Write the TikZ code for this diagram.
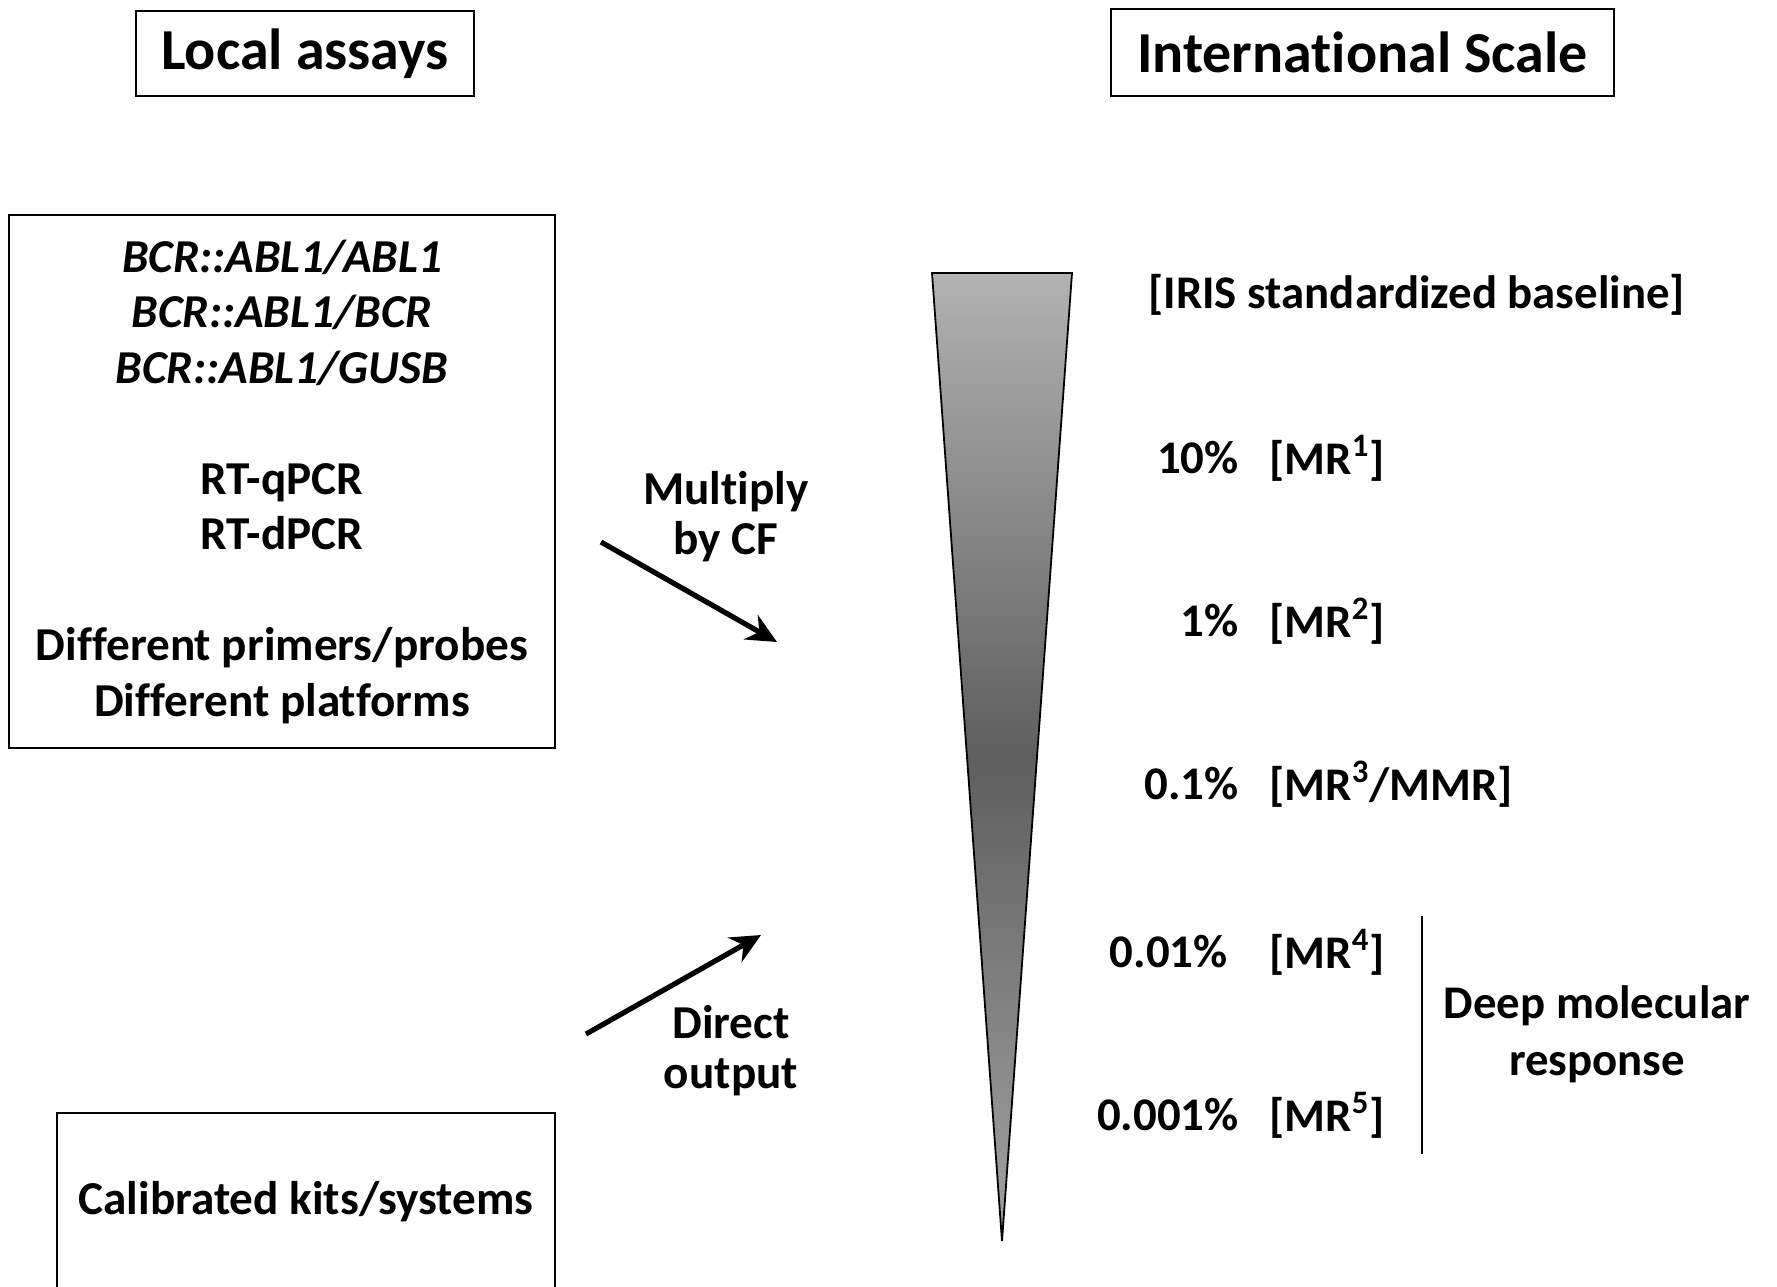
\documentclass[tikz,border=0pt]{standalone}
\usepackage{fontspec}
\setmainfont{Carlito}[Ligatures={NoCommon}]
\usetikzlibrary{arrows.meta}
\begin{document}
\begin{tikzpicture}[x=0.5pt,y=-0.5pt,
  titlebox/.style={draw, line width=1.4pt, inner sep=0pt, font=\fontsize{29}{34}\selectfont\bfseries},
  bigbox/.style={draw, line width=1pt, inner sep=0pt, align=center, font=\fontsize{23.6}{27.75}\selectfont\bfseries},
  lbl/.style={inner sep=0pt, font=\fontsize{23.4}{27.75}\selectfont\bfseries},
  arrlbl/.style={inner sep=0pt, align=center, font=\fontsize{23.6}{25}\selectfont\bfseries},
  bigarrow/.style={line width=2.6pt, -{Stealth[length=15pt,width=14pt]}}
]
\useasboundingbox (0,0) rectangle (1777,1286);

% titles
\node[titlebox, minimum width=169pt, minimum height=42.5pt] (local) at (305,53.5) {Local assays};
\node[titlebox, minimum width=251.5pt, minimum height=43.5pt] (intl) at (1362.5,52.5) {International Scale};

% left boxes
\node[bigbox, minimum width=273pt, minimum height=266.5pt] (assays) at (282,481.5)
  {\textit{BCR::ABL1/ABL1}\\ \textit{BCR::ABL1/BCR}\\ \textit{BCR::ABL1/GUSB}\\[27.75pt]
   RT-qPCR\\ RT-dPCR\\[27.75pt]
   Different primers/probes\\ Different platforms};
\node[bigbox, minimum width=249pt, minimum height=88.5pt] (kits) at (306,1201.5) {Calibrated kits/systems};

% arrows
\coordinate (a1s) at (601,542);
\coordinate (a1e) at (777,642);
\coordinate (a2s) at (586,1034);
\coordinate (a2e) at (761,935);
\draw[bigarrow] (a1s) -- (a1e);
\draw[bigarrow] (a2s) -- (a2e);
\node[arrlbl] (mult) at (726,517) {Multiply\\by CF};
\node[arrlbl] (direct) at (731,1051) {Direct\\output};

% triangle
\coordinate (tl) at (932,273);
\coordinate (tr) at (1072,273);
\coordinate (tip) at (1002,1241);
\draw[line width=0.9pt, top color=black!30, bottom color=black!36, middle color=black!63] (tl) -- (tr) -- (tip) -- cycle;

% right labels
\node[lbl, anchor=west] (iris) at (1148,295) {[IRIS standardized baseline]};
\node[lbl, anchor=east] (p1) at (1239,458) {10\%};
\node[lbl, anchor=west] (m1) at (1269,458) {[MR\textsuperscript{1}]};
\node[lbl, anchor=east] (p2) at (1239,621) {1\%};
\node[lbl, anchor=west] (m2) at (1269,621) {[MR\textsuperscript{2}]};
\node[lbl, anchor=east] (p3) at (1239,784) {0.1\%};
\node[lbl, anchor=west] (m3) at (1269,784) {[MR\textsuperscript{3}/MMR]};
\node[lbl, anchor=east] (p4) at (1228,952) {0.01\%};
\node[lbl, anchor=west] (m4) at (1269,952) {[MR\textsuperscript{4}]};
\node[lbl, anchor=east] (p5) at (1239,1115) {0.001\%};
\node[lbl, anchor=west] (m5) at (1269,1115) {[MR\textsuperscript{5}]};

\coordinate (vt) at (1422,916);
\coordinate (vb) at (1422,1154);
\draw[line width=1.2pt] (vt) -- (vb);
\node[lbl, align=center, font=\fontsize{23.4}{28.5}\selectfont\bfseries] (deep) at (1597,1034.5) {Deep molecular\\response};
\end{tikzpicture}
\end{document}
